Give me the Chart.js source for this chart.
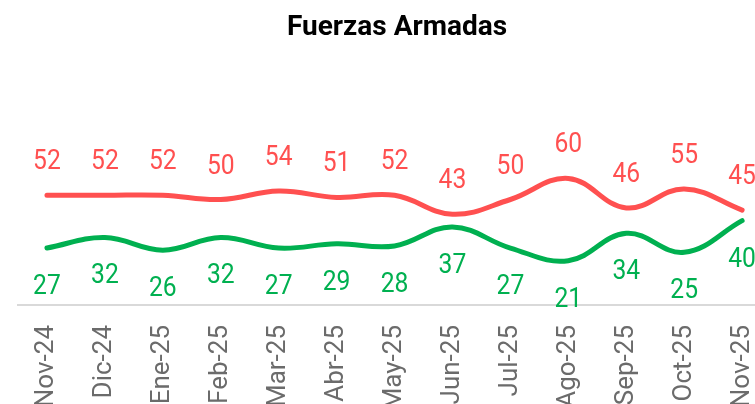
<!DOCTYPE html>
<html>
<head>
<meta charset="utf-8">
<script src="https://cdn.jsdelivr.net/npm/chart.js@4.4.1/dist/chart.umd.min.js"></script>
<style>
  html, body { margin: 0; padding: 0; background: #fff; overflow: hidden; }
  #wrap { position: absolute; left: 0; top: 0; width: 794px; height: 420px; }
</style>
</head>
<body>
<div id="wrap"><canvas id="c" width="794" height="420"></canvas></div>
<script>
const months = ["Nov-24","Dic-24","Ene-25","Feb-25","Mar-25","Abr-25","May-25","Jun-25","Jul-25","Ago-25","Sep-25","Oct-25","Nov-25"];
const redValues = [52,52,52,50,54,51,52,43,50,60,46,55,45];
const greenValues = [27,32,26,32,27,29,28,37,27,21,34,25,40];

const RED = 'rgb(255,80,80)';
const GREEN = 'rgb(0,176,80)';

const valueLabels = {
  id: 'valueLabels',
  afterDatasetsDraw(chart) {
    const ctx = chart.ctx;
    chart.data.datasets.forEach((ds, i) => {
      const meta = chart.getDatasetMeta(i);
      const off = ds.labelOffset;
      meta.data.forEach((pt, j) => {
        ctx.save();
        ctx.font = '28px Roboto, "DejaVu Sans", sans-serif';
        ctx.textAlign = 'center';
        ctx.textBaseline = 'middle';
        ctx.fillStyle = ds.borderColor;
        ctx.translate(pt.x, pt.y + off);
        ctx.scale(0.88, 1);
        ctx.fillText(String(ds.data[j]), 0, 0);
        ctx.restore();
      });
    });
  }
};

new Chart(document.getElementById('c'), {
  type: 'line',
  data: {
    labels: months,
    datasets: [
      { data: redValues, borderColor: RED, backgroundColor: RED, borderWidth: 5, pointRadius: 0, tension: 0.4, borderCapStyle: 'round', labelOffset: -33 },
      { data: greenValues, borderColor: GREEN, backgroundColor: GREEN, borderWidth: 5, pointRadius: 0, tension: 0.4, borderCapStyle: 'round', labelOffset: 39 }
    ]
  },
  options: {
    responsive: false,
    animation: false,
    events: [],
    layout: { padding: { left: 18, right: 18, top: 0, bottom: 0 } },
    plugins: {
      legend: { display: false },
      tooltip: { enabled: false },
      title: {
        display: true,
        text: 'Fuerzas Armadas',
        color: '#000',
        font: { family: 'Roboto, "DejaVu Sans", sans-serif', size: 28, weight: 'bold', lineHeight: 1.2 },
        padding: { top: 11.2, bottom: 49.2 }
      }
    },
    scales: {
      x: {
        offset: true,
        grid: { display: false, drawTicks: false },
        border: { display: true, color: '#d9d9d9', width: 2 },
        ticks: {
          color: '#6b6b6b',
          font: { family: 'Roboto, "DejaVu Sans", sans-serif', size: 26 },
          minRotation: 90, maxRotation: 90,
          padding: 20,
          autoSkip: false
        },
        afterFit(scale) { scale.height = 115; }
      },
      y: {
        display: false,
        min: 0,
        max: 100
      }
    }
  },
  plugins: [valueLabels]
});
</script>
</body>
</html>
